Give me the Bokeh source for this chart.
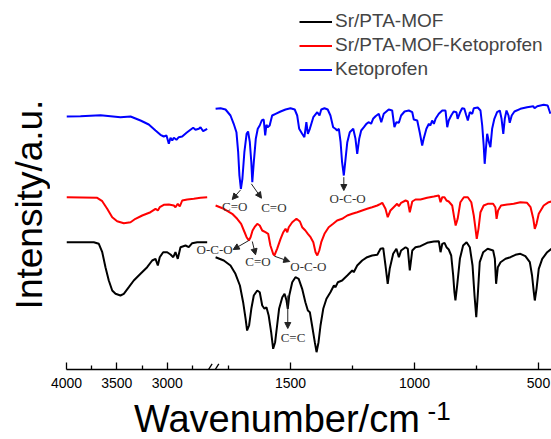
import math
from bokeh.plotting import figure
from bokeh.layouts import column, row
from bokeh.models import (Range1d, FixedTicker, Label, Arrow, NormalHead, Legend,
                          LegendItem, ColumnDataSource)
from bokeh.core.properties import value
from bokeh.embed import file_html
from bokeh.resources import INLINE

# ---------------- data (wavenumber cm^-1, intensity a.u.) ----------------
# high-wavenumber segment (4000 - 2600)
black_hi_wn = [4000, 3729, 3679, 3645, 3613, 3580, 3546, 3513, 3464, 3431, 3381, 3332, 3265, 3199, 3149,
               3116, 3093, 3074, 3040, 3000, 2967, 2940, 2918, 2895, 2868, 2818, 2786, 2752, 2702, 2603]
black_hi_int = [125.3, 125.3, 123.7, 115.3, 100.3, 87, 77, 73.7, 72, 73.7, 80.3, 87, 93.7, 100.3, 107,
                108.7, 102, 110.3, 115.3, 115.3, 113, 110.3, 115.3, 108.7, 120.3, 122, 120.3, 124.3, 125.3, 125.3]

red_hi_wn = [4000, 3695, 3645, 3596, 3546, 3497, 3431, 3364, 3315, 3248, 3166, 3116, 3093, 3074, 3034,
             2984, 2934, 2918, 2895, 2875, 2851, 2801, 2736, 2669, 2603]
red_hi_int = [170.3, 169.7, 166.3, 158.7, 150.3, 146.3, 144.3, 145.3, 148.7, 152, 155.3, 158.7, 157, 160.3,
              162.7, 163, 162, 160.3, 163.7, 161, 167, 168, 168.7, 169.7, 170.3]

blue_hi_wn = [4000, 3861, 3662, 3464, 3364, 3265, 3183, 3116, 3067, 3034, 3007, 2984, 2967, 2950, 2934,
              2908, 2885, 2851, 2808, 2769, 2742, 2719, 2686, 2669, 2643, 2603]
blue_hi_int = [251, 251.3, 252.3, 250.3, 251, 247, 243, 237, 232.7, 231, 232, 223.7, 229.7, 227, 229.7,
               227.7, 230.3, 231, 234.7, 237.7, 239.7, 237.7, 238.7, 240.3, 236.3, 238.7]

# low-wavenumber segment (1800 - 450)
black_lo_wn = [1802, 1769, 1742, 1722, 1704, 1691, 1681, 1675, 1667, 1658, 1648, 1634, 1624, 1614, 1605,
               1597, 1588, 1578, 1570, 1562, 1554, 1546, 1533, 1524, 1516, 1511, 1505, 1493, 1480, 1467,
               1453, 1440, 1430, 1422, 1413, 1402, 1395, 1387, 1379, 1368, 1355, 1339, 1325, 1319, 1309,
               1292, 1271, 1251, 1245, 1231, 1211, 1191, 1171, 1150, 1137, 1126, 1117, 1108, 1100, 1086,
               1073, 1063, 1054, 1036, 1027, 1019, 1009, 996, 976, 949, 922, 902, 895, 888, 879,
               871, 862, 852, 844, 839, 835, 828, 817, 804, 790, 777, 766, 758, 751, 745,
               737, 723, 705, 683, 676, 671, 664, 653, 633, 613, 593, 573, 553, 535, 526,
               519, 515, 508, 499, 485, 465, 448]
black_lo_int = [110.3, 107, 102, 93.7, 82, 65.3, 48.7, 37, 42, 58.7, 72, 77, 75.3, 62, 58.7,
                60.3, 52, 35.3, 18.7, 25.3, 42, 58.7, 70.3, 73.7, 67, 58.7, 72, 85.3, 90.3, 88.7,
                78.7, 65.3, 57, 55.3, 42, 25.3, 15.3, 25.3, 42, 58.7, 68.7, 75.3, 82, 80.3, 85.3,
                87, 92, 97, 95.3, 102, 107, 110.3, 112, 112.7, 118.7, 119.3, 102, 83.7, 98.7, 113.7,
                118.7, 110.3, 117, 120.3, 118.7, 97, 117, 120.3, 121.3, 124.7, 126, 126.3, 115.3, 123.7, 124.7,
                120.3, 118, 112, 92, 75.3, 67, 82, 108.7, 122, 125.3, 120.3, 102, 72, 50.3, 72,
                105.3, 115.3, 118.7, 117, 108.7, 83.7, 100.3, 105.3, 108.7, 110.3, 112.7, 113.7, 111.3, 105.3, 92,
                75.3, 67, 78.7, 98.7, 108.7, 115.3, 118.7]

red_lo_wn = [1802, 1769, 1735, 1715, 1699, 1688, 1677, 1668, 1661, 1653, 1645, 1634, 1624, 1614, 1601,
             1590, 1581, 1570, 1565, 1554, 1540, 1529, 1520, 1513, 1507, 1493, 1476, 1462, 1453, 1440,
             1430, 1419, 1408, 1399, 1392, 1384, 1376, 1363, 1346, 1328, 1312, 1292, 1271, 1251, 1231,
             1211, 1191, 1171, 1150, 1137, 1130, 1117, 1108, 1097, 1084, 1070, 1063, 1054, 1036, 1027,
             1019, 1009, 996, 976, 949, 922, 902, 895, 888, 879, 871, 862, 848, 839, 834,
             826, 815, 801, 785, 771, 761, 754, 749, 742, 734, 721, 705, 683, 674, 669,
             663, 651, 626, 600, 573, 546, 532, 521, 515, 508, 499, 479, 459, 448]
red_lo_int = [162, 158.7, 153.7, 148.7, 143.7, 137, 130.3, 127, 130.3, 137, 140.3, 143.7, 142, 137, 135.3,
              133.7, 122, 113.7, 112, 118.7, 128.7, 135.3, 138.7, 135.3, 140.3, 145.3, 148.7, 146, 140.3, 137,
              133.7, 130.3, 125.3, 115.3, 112, 117, 125.3, 133.7, 140.3, 143.7, 147, 148.7, 152, 153.7, 155.3,
              157, 158.7, 160.3, 162, 163.7, 164.7, 158.7, 150.3, 157, 160.3, 163.7, 161.3, 164.7, 167, 166,
              155.3, 166, 168, 168, 169.7, 171, 172, 165.3, 170.3, 170.3, 167, 166, 162, 148.7, 142,
              148.7, 165.3, 170.3, 170.3, 165.3, 152, 138.7, 128.7, 138.7, 155.3, 162, 163.7, 163.7, 160.3, 148.7,
              157, 162, 163, 163.7, 165.3, 164.7, 160.3, 148.7, 138.7, 143.7, 153.7, 162, 165.3, 166]

blue_lo_wn = [1802, 1782, 1762, 1742, 1729, 1718, 1711, 1706, 1700, 1694, 1686, 1677, 1671, 1664, 1658,
              1654, 1648, 1640, 1632, 1624, 1616, 1608, 1602, 1597, 1592, 1584, 1574, 1560, 1540, 1520,
              1500, 1483, 1473, 1465, 1453, 1444, 1436, 1430, 1422, 1408, 1392, 1383, 1376, 1363, 1350,
              1339, 1328, 1319, 1312, 1305, 1298, 1292, 1285, 1278, 1271, 1261, 1247, 1238, 1231, 1223,
              1215, 1204, 1194, 1184, 1175, 1167, 1157, 1144, 1134, 1124, 1104, 1090, 1081, 1073, 1063,
              1054, 1040, 1023, 1009, 1003, 989, 979, 969, 963, 952, 942, 936, 929, 922, 915,
              902, 888, 875, 868, 862, 852, 842, 831, 826, 817, 808, 799, 792, 785, 777,
              767, 761, 745, 734, 727, 721, 717, 711, 707, 700, 694, 687, 678, 667, 656,
              649, 642, 636, 629, 621, 616, 608, 597, 573, 546, 521, 516, 505, 479, 463, 452]
blue_lo_int = [258.7, 259.3, 258, 252, 243.7, 235.3, 215.3, 192, 178.7, 188.7, 215.3, 233.7, 236, 225.3, 205.3,
               185.3, 205.3, 228.7, 238.7, 242, 247, 248, 232, 242.7, 240.3, 242, 252, 253.7, 256, 258,
               259.3, 258, 252, 238.7, 233.7, 230.3, 245.3, 233.7, 238.7, 250.3, 255.3, 252, 258, 259.3, 258,
               252, 240.3, 238.7, 237, 238.7, 225.3, 205.3, 192, 208.7, 225.3, 235.3, 238.7, 228.7, 213.7, 228.7,
               237, 240.3, 243.7, 245.3, 243.7, 248.7, 251.3, 253.7, 245.3, 253.7, 258, 257, 240.3, 245.3, 244.7,
               252, 256, 257, 255.3, 248, 247, 235.3, 222, 228.7, 238.7, 243.7, 242, 247, 243.7, 248.7,
               253.7, 257, 257, 240.3, 247, 252, 256, 255.3, 248.7, 254.7, 259.3, 258.7, 252.7, 247, 255.3,
               253.7, 259.3, 260, 257, 242, 222, 203.7, 222, 233.7, 225.3, 220.3, 238.7, 248.7, 255.3, 257,
               248.7, 233.7, 248.7, 257, 252, 244.7, 252, 256, 258.7, 260.3, 261.3, 259.3, 261.3, 262.7, 262, 253.7]

series_names = ["Sr/PTA-MOF", "Sr/PTA-MOF-Ketoprofen", "Ketoprofen"]
series_colors = ["#000000", "#FF0000", "#0000FF"]

# band assignments
ann_text = ["C=O", "C=O", "O-C-O", "O-C-O", "C=O", "O-C-O", "C=C"]
ann_wn = [1725, 1567, 1270, 1806, 1631, 1428, 1490]
ann_int = [161, 160, 168.7, 118, 106, 101.3, 30.3]
arrow_from_wn = [1701, 1658, 1285, 1668, 1654, 1565, 1511]
arrow_from_int = [177.7, 183.7, 190.3, 127, 126, 111.3, 72]
arrow_to_wn = [1735, 1617, 1285, 1731, 1641, 1503, 1511]
arrow_to_int = [168, 169.3, 177, 118, 112.7, 106, 39]

# axis (broken): ticks of each segment
hi_ticks = [4000, 3500, 3000]
hi_minor = [3750, 3250, 2750]
lo_ticks = [1500, 1000, 500]
lo_minor = [1750, 1250, 750]

x_title = "Wavenumber/cm"
x_title_sup = "-1"
y_title = "Intensity/a.u."

# ranges of the two segments on the common frame
LO_RANGE = (2403.2, 447.6)
HI_RANGE = (4000.0, -816.3)

FONT = "Liberation Sans"
SERIF = "Liberation Serif"


def bare(fig):
    fig.outline_line_color = None
    fig.xgrid.visible = False
    fig.ygrid.visible = False
    fig.background_fill_color = "white"
    fig.border_fill_color = "white"
    return fig


# ---------------- main plot ----------------
p = figure(width=501, height=395, output_backend="svg", toolbar_location=None,
           x_range=Range1d(*LO_RANGE), y_range=Range1d(-2, 367),
           min_border_left=16, min_border_right=0, min_border_top=0, min_border_bottom=26)
p.extra_x_ranges = {"hi": Range1d(*HI_RANGE)}
bare(p)
p.yaxis.visible = False

lo_data = [(black_lo_wn, black_lo_int), (red_lo_wn, red_lo_int), (blue_lo_wn, blue_lo_int)]
hi_data = [(black_hi_wn, black_hi_int), (red_hi_wn, red_hi_int), (blue_hi_wn, blue_hi_int)]

items = []
for (lx, ly_), (hx, hy), name, col in zip(lo_data, hi_data, series_names, series_colors):
    r1 = p.line(lx, ly_, line_color=col, line_width=2)
    p.line(hx, hy, line_color=col, line_width=2, x_range_name="hi")
    items.append(LegendItem(label=name, renderers=[r1]))

legend = Legend(items=items, location=(233, 289), orientation="vertical",
                label_text_font=FONT, label_text_font_size="19px",
                glyph_width=33, glyph_height=21, label_height=21, label_standoff=3,
                spacing=2, padding=0, margin=0,
                border_line_color=None, background_fill_alpha=0)
p.add_layout(legend)

# band annotations
src = ColumnDataSource(dict(x=ann_wn, y=ann_int, t=ann_text))
p.text(x="x", y="y", text="t", source=src, text_font=value(SERIF), text_font_size="13px",
       text_align="center", text_baseline="middle", text_color="#333333")
for xs, ys, xe, ye in zip(arrow_from_wn, arrow_from_int, arrow_to_wn, arrow_to_int):
    p.add_layout(Arrow(end=NormalHead(size=6, fill_color="#222222", line_color="#222222"),
                       x_start=xs, y_start=ys, x_end=xe, y_end=ye,
                       line_color="#222222", line_width=1))


# x axis ticks for the broken axis
def hi_to_lo(v):
    frac = (HI_RANGE[0] - v) / (HI_RANGE[0] - HI_RANGE[1])
    return round(LO_RANGE[0] - frac * (LO_RANGE[0] - LO_RANGE[1]), 3)


major = [hi_to_lo(v) for v in hi_ticks] + [float(v) for v in lo_ticks]
minor = [hi_to_lo(v) for v in hi_minor] + [float(v) for v in lo_minor]
ax = p.xaxis[0]
ax.ticker = FixedTicker(ticks=major, minor_ticks=minor)
ax.major_label_overrides = {m: str(v) for m, v in zip(major, hi_ticks + lo_ticks)}
ax.axis_line_width = 1.3
ax.major_tick_line_width = 1.3
ax.minor_tick_line_width = 1.3
ax.major_tick_in = 7
ax.major_tick_out = 0
ax.minor_tick_in = 4
ax.minor_tick_out = 0
ax.major_label_standoff = 8
ax.major_label_text_font = FONT
ax.major_label_text_font_size = "14px"
ax.major_label_text_color = "black"

# axis-break marks
brk_a = (1850.0, 1816.0)
brk_b = (1823.0, 1789.0)
for xa, xb in (brk_a, brk_b):
    p.add_layout(Arrow(end=None, x_start=xa, y_start=-9.7, x_end=xb, y_end=3.7,
                       line_color="black", line_width=1.3))

# ---------------- y title panel ----------------
yt = figure(width=50, height=395, output_backend="svg", toolbar_location=None,
            min_border=0, x_range=Range1d(0, 1), y_range=Range1d(0, 1))
bare(yt)
yt.axis.visible = False
yt.add_layout(Label(x=29, y=165, x_units="screen", y_units="screen", text=y_title,
                    angle=math.pi / 2, text_font=FONT, text_font_size="37px", text_color="black",
                    text_baseline="alphabetic", text_align="center"))

# ---------------- x title panel ----------------
xt = figure(width=551, height=44, output_backend="svg", toolbar_location=None,
            min_border=0, x_range=Range1d(0, 1), y_range=Range1d(0, 1))
bare(xt)
xt.axis.visible = False
xt.add_layout(Label(x=133.5, y=21, x_units="screen", y_units="screen", text=x_title,
                    text_font=FONT, text_font_size="38px", text_color="black",
                    text_baseline="alphabetic", text_align="left"))
xt.add_layout(Label(x=427, y=29, x_units="screen", y_units="screen", text=x_title_sup,
                    text_font=FONT, text_font_size="26px", text_color="black",
                    text_baseline="alphabetic", text_align="left"))

layout = column(row(yt, p, spacing=0), xt, spacing=0)
open("out.html", "w").write(file_html(layout, INLINE))
